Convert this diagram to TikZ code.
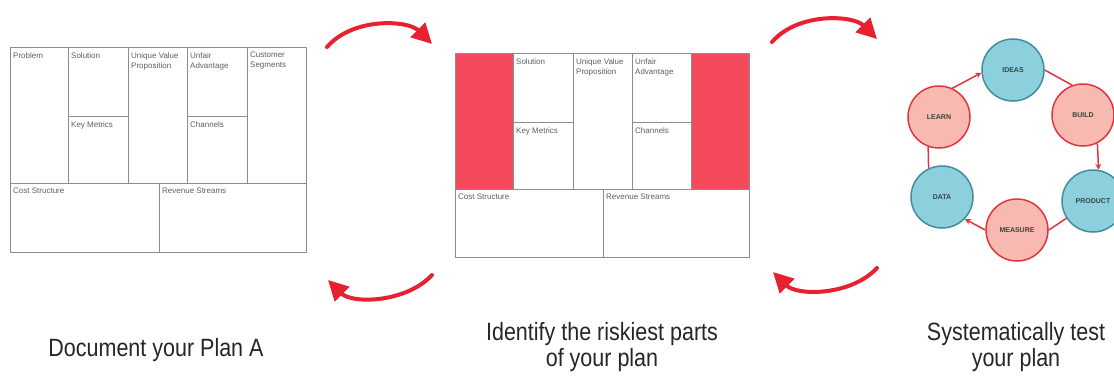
\documentclass[tikz,border=0pt]{standalone}
\usepackage{fontspec}
\setmainfont{Liberation Sans}
\newfontfamily\capfont[FakeStretch=0.86]{Liberation Sans}
\usetikzlibrary{arrows.meta, positioning, calc}
\definecolor{Grid}    {HTML}{8C8C8C}
\definecolor{Ink}     {HTML}{5E5E5E}
\definecolor{Risk}    {HTML}{F44A5B}
\definecolor{Loop}    {HTML}{E8202F}
\definecolor{Pink}    {HTML}{F7B9B0}
\definecolor{PinkEdge}{HTML}{E0353F}
\definecolor{Teal}    {HTML}{8DD0DD}
\definecolor{TealEdge}{HTML}{3F8E9C}
\tikzset{
  cell/.style={draw=Grid, line width=0.9pt, anchor=north west, inner sep=0pt, outer sep=0pt},
  lbl/.style={font=\fontsize{8}{10}\selectfont, text=Ink, align=left, inner sep=0pt, anchor=north west},
  stage/.style={circle, line width=1.5pt, minimum size=62pt, inner sep=0pt,
                font=\bfseries\fontsize{7}{7}\selectfont, text=black!75},
  think/.style={stage, fill=Pink, draw=PinkEdge},
  thing/.style={stage, fill=Teal, draw=TealEdge},
  cyc/.style={draw=PinkEdge, line width=1.5pt},
  bigarr/.style={-{Triangle[length=20pt,width=20pt]}, Loop, line width=4pt, line cap=round},
  caption/.style={font=\capfont\fontsize{25}{26}\selectfont, text=black!85, align=center}
}

\begin{document}
\begin{tikzpicture}[x=1pt, y=-1pt, tip/.style={-{Stealth[length=6pt,width=6pt]}}]
  \useasboundingbox (0,0) rectangle (1114,376);

  \begin{scope}[shift={(10,47)}]
    \foreach \n/\x/\y/\w/\h/\t in {pb/0/0/58/136/Problem, so/58/0/60/69/Solution,
        km/58/69/60/67/{Key Metrics}, uv/118/0/59/136/{Unique Value\\Proposition},
        ua/177/0/60/69/{Unfair\\Advantage}, ch/177/69/60/67/Channels,
        cs/237/0/59/136/{Customer\\Segments}, co/0/136/149/69/{Cost Structure},
        rs/149/136/147/69/{Revenue Streams}}{
      \node[cell, minimum width=\w pt, minimum height=\h pt] (a-\n) at (\x,\y) {};
      \node[lbl] (a-\n-t) at ($(a-\n.north west)+(3,5)$) {\t};
    }
  \end{scope}

  \begin{scope}[shift={(455,53)}]
    \node[cell, fill=Risk, minimum width=58pt, minimum height=136pt] (b-pb) at (0,0) {};
    \node[cell, fill=Risk, minimum width=58pt, minimum height=136pt] (b-cs) at (236,0) {};
    \foreach \n/\x/\y/\w/\h/\t in {so/58/0/60/69/Solution,
        km/58/69/60/67/{Key Metrics}, uv/118/0/59/136/{Unique Value\\Proposition},
        ua/177/0/59/69/{Unfair\\Advantage}, ch/177/69/59/67/Channels,
        co/0/136/148/68/{Cost Structure}, rs/148/136/146/68/{Revenue Streams}}{
      \node[cell, minimum width=\w pt, minimum height=\h pt] (b-\n) at (\x,\y) {};
      \node[lbl] (b-\n-t) at ($(b-\n.north west)+(3,5)$) {\t};
    }
  \end{scope}

  \node[thing] (ideas)   at (1013,70)  {IDEAS};
  \node[think] (build)   at (1083,115) {BUILD};
  \node[thing] (product) at (1093,201) {PRODUCT};
  \node[think] (measure) at (1017,230) {MEASURE};
  \node[thing] (data)    at (942,197)  {DATA};
  \node[think] (learn)   at (939,117)  {LEARN};
  \draw[cyc] (ideas.0) -- (build.110);
  \draw[cyc,tip] (build.-63) -- (product.80);
  \draw[cyc] (product.-147) -- (measure.0);
  \draw[cyc,tip] (measure.180) -- (data.-44);
  \draw[cyc] (data.115) -- (learn.-110);
  \draw[cyc,tip] (learn.65) -- (ideas.185);

  \coordinate (t1s) at (327,47);  \coordinate (t1e) at (432,44);
  \coordinate (b1s) at (432,275); \coordinate (b1e) at (328,280);
  \coordinate (t2s) at (772,42);  \coordinate (t2e) at (877,39);
  \coordinate (b2s) at (877,268); \coordinate (b2e) at (773,272);
  \draw[bigarr] (t1s) .. controls +(26,-30) and +(-24,-24) .. (t1e);
  \draw[bigarr] (b1s) .. controls +(-26,28) and +(24,24) .. (b1e);
  \draw[bigarr] (t2s) .. controls +(26,-30) and +(-24,-24) .. (t2e);
  \draw[bigarr] (b2s) .. controls +(-26,28) and +(24,24) .. (b2e);

  \node[caption, anchor=base] (capa) at (156,356) {Document your Plan A};
  \node[caption, anchor=base] (capb) at (602,366) {Identify the riskiest parts\\of your plan};
  \node[caption, anchor=base] (capc) at (1016,366) {Systematically test\\your plan};
\end{tikzpicture}
\end{document}
